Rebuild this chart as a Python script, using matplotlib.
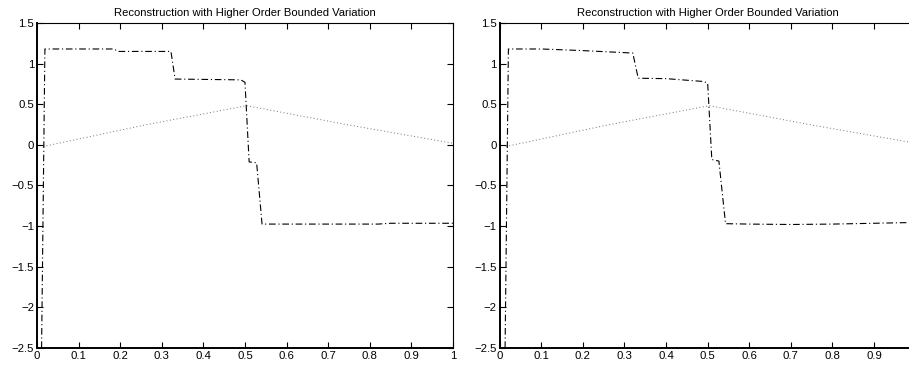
import matplotlib
matplotlib.use("Agg")
import matplotlib.pyplot as plt

plt.rcParams["font.family"] = ["Liberation Sans", "DejaVu Sans"]

TITLE = "Reconstruction with Higher Order Bounded Variation"
X_TICKS = [0, 0.1, 0.2, 0.3, 0.4, 0.5, 0.6, 0.7, 0.8, 0.9, 1]
X_TICK_LABELS = ["0", "0.1", "0.2", "0.3", "0.4", "0.5", "0.6", "0.7", "0.8", "0.9", "1"]
Y_TICKS = [-2.5, -2, -1.5, -1, -0.5, 0, 0.5, 1, 1.5]
Y_TICK_LABELS = ["\u22122.5", "\u22122", "\u22121.5", "\u22121", "\u22120.5", "0", "0.5", "1", "1.5"]

# reconstruction, left panel (dash-dot)
left_x = [0.011, 0.019, 0.185, 0.195, 0.322, 0.332, 0.49, 0.50, 0.51, 0.528, 0.541, 0.82, 0.85, 1.0]
left_y = [-2.5, 1.18, 1.18, 1.15, 1.15, 0.81, 0.80, 0.77, -0.21, -0.22, -0.975, -0.975, -0.965, -0.965]

# reconstruction, right panel (dash-dot)
right_x = [0.013, 0.021, 0.1, 0.2, 0.32, 0.333, 0.4, 0.49, 0.50, 0.51, 0.527, 0.543, 0.6, 0.7, 0.8, 1.0]
right_y = [-2.5, 1.18, 1.18, 1.16, 1.13, 0.82, 0.815, 0.78, 0.76, -0.18, -0.20, -0.97, -0.975, -0.98, -0.975, -0.955]

# reference signal (dotted), same in both panels
ref_x = [0.015, 0.26, 0.504, 0.744, 1.0]
ref_y = [-0.02, 0.245, 0.482, 0.25, 0.02]


def draw(ax, x, y, xlabels):
    ax.plot(ref_x, ref_y, linestyle=(0, (1, 2.5)), color="0.45", linewidth=0.7)
    ax.plot(x, y, color="black", linewidth=0.8, dashes=(6, 2.5, 1, 2.5))
    ax.set_xlim(0, 1)
    ax.set_ylim(-2.5, 1.5)
    ax.set_xticks(X_TICKS)
    ax.set_xticklabels(xlabels)
    ax.set_yticks(Y_TICKS)
    ax.set_yticklabels(Y_TICK_LABELS)
    ax.tick_params(direction="in", top=True, right=True, length=4, width=0.8,
                   labelsize=8.2, pad=2)
    for side in ["left", "bottom"]:
        ax.spines[side].set_linewidth(1.4)
    for side in ["top", "right"]:
        ax.spines[side].set_linewidth(0.8)
    ax.set_title(TITLE, fontsize=8.1, pad=5)


fig = plt.figure(figsize=(9.09, 3.66), dpi=100)
ax1 = fig.add_axes([0.0407, 0.0492, 0.4576, 0.888])
ax2 = fig.add_axes([0.5497, 0.0492, 0.4576, 0.888])
draw(ax1, left_x, left_y, X_TICK_LABELS)
# the right panel runs past the figure edge, its last label is not shown
draw(ax2, right_x, right_y, X_TICK_LABELS[:-1] + [""])

fig.savefig("out.png", dpi=100)
